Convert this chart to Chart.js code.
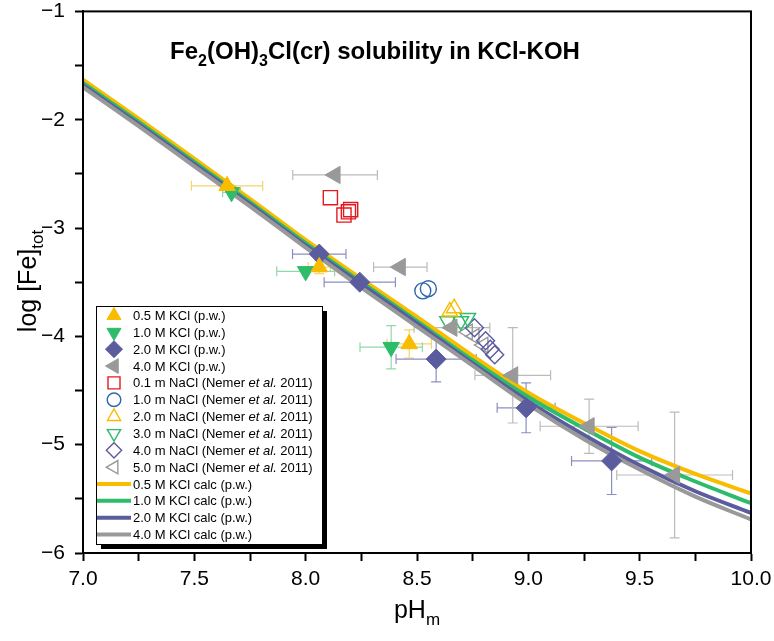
<!DOCTYPE html>
<html><head><meta charset="utf-8">
<script src="https://cdn.jsdelivr.net/npm/chart.js@4.4.1/dist/chart.umd.min.js"></script>
<style>html,body{margin:0;padding:0;background:#fff;}#wrap{width:774px;height:641px;}</style>
</head><body><div id="wrap"><canvas id="c" width="774" height="641"></canvas></div>
<script>
const FONT = "'Liberation Sans', Arial, Helvetica, sans-serif";

// ---- calculated curves (p.w.) ----
const calcPH     = [7.0, 7.25, 7.5, 7.75, 8.0, 8.25, 8.5, 8.75, 9.0, 9.25, 9.5, 9.75, 10.0];
const calcKCl05  = [-1.63,-1.99,-2.36,-2.73,-3.11,-3.47,-3.82,-4.18,-4.52,-4.80,-5.06,-5.27,-5.45];
const calcKCl10  = [-1.66,-2.02,-2.39,-2.76,-3.14,-3.50,-3.86,-4.22,-4.56,-4.85,-5.12,-5.34,-5.54];
const calcKCl20  = [-1.68,-2.04,-2.41,-2.78,-3.16,-3.52,-3.88,-4.25,-4.60,-4.91,-5.19,-5.43,-5.63];
const calcKCl40  = [-1.70,-2.06,-2.43,-2.80,-3.18,-3.55,-3.91,-4.27,-4.63,-4.95,-5.23,-5.48,-5.69];

// ---- experimental data (p.w.) ----
const kcl05PH   = [7.647, 8.061, 8.465];
const kcl05Fe   = [-2.61, -3.36, -4.07];
const kcl05PHe  = [0.16, 0.05, 0.10];
const kcl05FeE  = [0.00, 0.06, 0.13];

const kcl10PH   = [7.667, 8.000, 8.384];
const kcl10Fe   = [-2.67, -3.40, -4.10];
const kcl10PHe  = [0.04, 0.13, 0.14];
const kcl10FeE  = [0.00, 0.00, 0.20];

const kcl20PH   = [8.061, 8.243, 8.586, 8.990, 9.374];
const kcl20Fe   = [-3.24, -3.50, -4.21, -4.66, -5.15];
const kcl20PHe  = [0.12, 0.16, 0.18, 0.13, 0.18];
const kcl20FeE  = [0.00, 0.00, 0.21, 0.23, 0.31];

const kcl40PH   = [8.132, 8.425, 8.657, 8.930, 9.273, 9.657];
const kcl40Fe   = [-2.51, -3.36, -3.92, -4.36, -4.83, -5.28];
const kcl40PHe  = [0.19, 0.12, 0.17, 0.17, 0.22, 0.26];
const kcl40FeE  = [0.00, 0.00, 0.00, 0.44, 0.25, 0.58];

// ---- literature (Nemer et al. 2011) ----
const nacl01PH = [8.111, 8.172, 8.192, 8.202];
const nacl01Fe = [-2.72, -2.88, -2.85, -2.83];
const nacl10PH = [8.526, 8.551];
const nacl10Fe = [-3.58, -3.56];
const nacl20PH = [8.647, 8.667];
const nacl20Fe = [-3.77, -3.74];
const nacl30PH = [8.637, 8.697, 8.728];
const nacl30Fe = [-3.86, -3.86, -3.83];
const nacl40PH = [8.758, 8.808, 8.829, 8.849];
const nacl40Fe = [-3.92, -4.04, -4.12, -4.17];
const nacl50PH = [8.728, 8.758, 8.798];
const nacl50Fe = [-3.96, -4.00, -4.08];

const legendLabels = [
  [{t:"0.5 M KCl (p.w.)"}],
  [{t:"1.0 M KCl (p.w.)"}],
  [{t:"2.0 M KCl (p.w.)"}],
  [{t:"4.0 M KCl (p.w.)"}],
  [{t:"0.1 m NaCl (Nemer "},{t:"et al.",i:true},{t:" 2011)"}],
  [{t:"1.0 m NaCl (Nemer "},{t:"et al.",i:true},{t:" 2011)"}],
  [{t:"2.0 m NaCl (Nemer "},{t:"et al.",i:true},{t:" 2011)"}],
  [{t:"3.0 m NaCl (Nemer "},{t:"et al.",i:true},{t:" 2011)"}],
  [{t:"4.0 m NaCl (Nemer "},{t:"et al.",i:true},{t:" 2011)"}],
  [{t:"5.0 m NaCl (Nemer "},{t:"et al.",i:true},{t:" 2011)"}],
  [{t:"0.5 M KCl calc (p.w.)"}],
  [{t:"1.0 M KCl calc (p.w.)"}],
  [{t:"2.0 M KCl calc (p.w.)"}],
  [{t:"4.0 M KCl calc (p.w.)"}]
];

const YEL = '#F8BC00', GRN = '#2DBD6A', PUR = '#5B5C9E', GRY = '#999999', RED = '#E5181E', BLU = '#2C66AC';

const pts = (xs, ys) => xs.map((x, i) => ({x: x, y: ys[i]}));

function scatterDS(xs, ys, style, col, filled, r, rot, ex, ey, ecol) {
  return {
    type: 'scatter', data: pts(xs, ys), order: 0,
    pointStyle: style, pointRadius: r, pointHoverRadius: r, pointRotation: rot || 0,
    pointBackgroundColor: filled ? col : 'rgba(0,0,0,0)', pointBorderColor: col,
    pointBorderWidth: filled ? 1 : 1.4, showLine: false,
    errX: ex, errY: ey, errColor: ecol
  };
}
function lineDS(ys, col, ord) {
  return {
    type: 'line', data: pts(calcPH, ys), order: ord, borderColor: col, borderWidth: 4,
    pointRadius: 0, cubicInterpolationMode: 'monotone', fill: false, showLine: true
  };
}

const datasets = [
  scatterDS(kcl05PH, kcl05Fe, 'triangle', YEL, true, 9.5, 0, kcl05PHe, kcl05FeE, '#F6D36B'),
  scatterDS(kcl10PH, kcl10Fe, 'triangle', GRN, true, 9.5, 180, kcl10PHe, kcl10FeE, '#8FD9A9'),
  scatterDS(kcl20PH, kcl20Fe, 'rectRot', PUR, true, 10, 0, kcl20PHe, kcl20FeE, '#8D8EC2'),
  scatterDS(kcl40PH, kcl40Fe, 'triangle', GRY, true, 10, -90, kcl40PHe, kcl40FeE, '#BBBBBB'),
  scatterDS(nacl01PH, nacl01Fe, 'rect', RED, false, 10, 0),
  scatterDS(nacl10PH, nacl10Fe, 'circle', BLU, false, 8, 0),
  scatterDS(nacl20PH, nacl20Fe, 'triangle', YEL, false, 9, 0),
  scatterDS(nacl30PH, nacl30Fe, 'triangle', GRN, false, 9, 180),
  scatterDS(nacl40PH, nacl40Fe, 'rectRot', PUR, false, 9, 0),
  scatterDS(nacl50PH, nacl50Fe, 'triangle', GRY, false, 9, -90),
  lineDS(calcKCl05, YEL, 5),
  lineDS(calcKCl10, GRN, 4),
  lineDS(calcKCl20, PUR, 3),
  lineDS(calcKCl40, GRY, 2)
];

function drawRich(ctx, parts, x, y, size, weight, align) {
  const fontOf = p => (p.i ? 'italic ' : '') + weight + ' ' + (p.sub ? Math.round(size * 0.68) : size) + 'px ' + FONT;
  let w = 0;
  parts.forEach(p => { ctx.font = fontOf(p); w += ctx.measureText(p.t).width; });
  let cx = align === 'center' ? x - w / 2 : x;
  ctx.textAlign = 'left';
  ctx.textBaseline = 'alphabetic';
  parts.forEach(p => {
    ctx.font = fontOf(p);
    ctx.fillText(p.t, cx, y + (p.sub ? size * 0.28 : 0));
    cx += ctx.measureText(p.t).width;
  });
}

function drawMarker(ctx, d, x, y, r) {
  ctx.save();
  ctx.fillStyle = d.pointBackgroundColor; ctx.strokeStyle = d.pointBorderColor;
  ctx.lineWidth = d.pointBorderWidth;
  Chart.helpers.drawPoint(ctx, {pointStyle: d.pointStyle, radius: r, rotation: d.pointRotation, borderWidth: d.pointBorderWidth}, x, y);
  ctx.restore();
}

const extras = {
  id: 'extras',
  beforeDatasetsDraw(chart) {
    const ctx = chart.ctx, xs = chart.scales.x, ys = chart.scales.y, a = chart.chartArea;
    ctx.save();
    ctx.beginPath(); ctx.rect(a.left, a.top, a.right - a.left, a.bottom - a.top); ctx.clip();
    ctx.lineWidth = 1.2;
    chart.data.datasets.forEach(ds => {
      if (!ds.errX) return;
      ctx.strokeStyle = ds.errColor;
      ds.data.forEach((p, i) => {
        const px = xs.getPixelForValue(p.x), py = ys.getPixelForValue(p.y);
        const ex = ds.errX[i], ey = ds.errY[i];
        const cap = 5;
        if (ex > 0) {
          const x1 = xs.getPixelForValue(p.x - ex), x2 = xs.getPixelForValue(p.x + ex);
          ctx.beginPath();
          ctx.moveTo(x1, py); ctx.lineTo(x2, py);
          ctx.moveTo(x1, py - cap); ctx.lineTo(x1, py + cap);
          ctx.moveTo(x2, py - cap); ctx.lineTo(x2, py + cap);
          ctx.stroke();
        }
        if (ey > 0) {
          const y1 = ys.getPixelForValue(p.y - ey), y2 = ys.getPixelForValue(p.y + ey);
          ctx.beginPath();
          ctx.moveTo(px, y1); ctx.lineTo(px, y2);
          ctx.moveTo(px - cap, y1); ctx.lineTo(px + cap, y1);
          ctx.moveTo(px - cap, y2); ctx.lineTo(px + cap, y2);
          ctx.stroke();
        }
      });
    });
    ctx.restore();
  },
  afterDraw(chart) {
    const ctx = chart.ctx, a = chart.chartArea;
    ctx.save();
    ctx.strokeStyle = '#000'; ctx.lineWidth = 2;
    ctx.strokeRect(a.left, a.top, a.right - a.left, a.bottom - a.top);
    ctx.fillStyle = '#000';
    drawRich(ctx, [{t:'Fe'},{t:'2',sub:true},{t:'(OH)'},{t:'3',sub:true},{t:'Cl(cr) solubility in KCl-KOH'}],
      375, 59, 24, 'bold', 'center');
    drawRich(ctx, [{t:'pH'},{t:'m',sub:true}], 417, 618, 25, 'normal', 'center');
    ctx.save();
    ctx.translate(36, 281); ctx.rotate(-Math.PI / 2);
    drawRich(ctx, [{t:'log [Fe]'},{t:'tot',sub:true}], 0, 0, 25, 'normal', 'center');
    ctx.restore();
    // legend box with shadow
    const L = 96, T = 306, R = 322, B = 544;
    ctx.fillStyle = '#000';
    ctx.fillRect(L + 5, T + 5, R - L, B - T);
    ctx.fillStyle = '#fff';
    ctx.fillRect(L, T, R - L, B - T);
    ctx.strokeStyle = '#000'; ctx.lineWidth = 1;
    ctx.strokeRect(L + 0.5, T + 0.5, R - L, B - T);
    const ds = chart.data.datasets;
    const rowH = 16.85, y0 = 315.5;
    legendLabels.forEach((lab, i) => {
      const y = y0 + i * rowH, d = ds[i];
      if (d.type === 'line') {
        ctx.strokeStyle = d.borderColor; ctx.lineWidth = 4;
        ctx.beginPath(); ctx.moveTo(97, y); ctx.lineTo(131, y); ctx.stroke();
      } else {
        drawMarker(ctx, d, 114, y, d.pointRadius * 0.85);
      }
      ctx.fillStyle = '#000';
      drawRich(ctx, lab, 133, y + 4.5, 13, 'normal', 'left');
    });
    ctx.restore();
  }
};

new Chart(document.getElementById('c'), {
  type: 'scatter',
  data: { datasets: datasets },
  options: {
    responsive: false, animation: false, devicePixelRatio: 1,
    layout: { padding: { top: 10, right: 23, left: 0, bottom: 0 } },
    plugins: { legend: { display: false }, tooltip: { enabled: false }, title: { display: false } },
    scales: {
      x: {
        type: 'linear', min: 7, max: 10,
        afterFit: s => { s.height = 88; s.paddingLeft = 0; s.paddingRight = 0; },
        afterBuildTicks: s => { s.ticks = []; for (let v = 7; v <= 10.0001; v += 0.25) s.ticks.push({value: Math.round(v * 100) / 100}); },
        ticks: {
          autoSkip: false, maxRotation: 0, color: '#000', padding: 6,
          font: { family: FONT, size: 21 },
          callback: v => (Math.abs(v * 2 - Math.round(v * 2)) < 1e-6 ? Number(v).toFixed(1) : '')
        },
        grid: { drawOnChartArea: false, drawTicks: true, tickLength: 8, tickColor: '#000', tickWidth: 2 },
        border: { display: true, color: '#000', width: 2 }
      },
      y: {
        type: 'linear', min: -6, max: -1,
        afterFit: s => { s.width = 83; s.paddingTop = 0; s.paddingBottom = 0; },
        afterBuildTicks: s => { s.ticks = []; for (let v = -6; v <= -0.9999; v += 0.5) s.ticks.push({value: Math.round(v * 10) / 10}); },
        ticks: {
          autoSkip: false, color: '#000', padding: 10,
          font: { family: FONT, size: 21 },
          callback: v => (Math.abs(v - Math.round(v)) < 1e-6 ? '\u2212' + Math.abs(v) : '')
        },
        grid: { drawOnChartArea: false, drawTicks: true, tickLength: 8, tickColor: '#000', tickWidth: 2 },
        border: { display: true, color: '#000', width: 2 }
      }
    }
  },
  plugins: [extras]
});
</script></body></html>
